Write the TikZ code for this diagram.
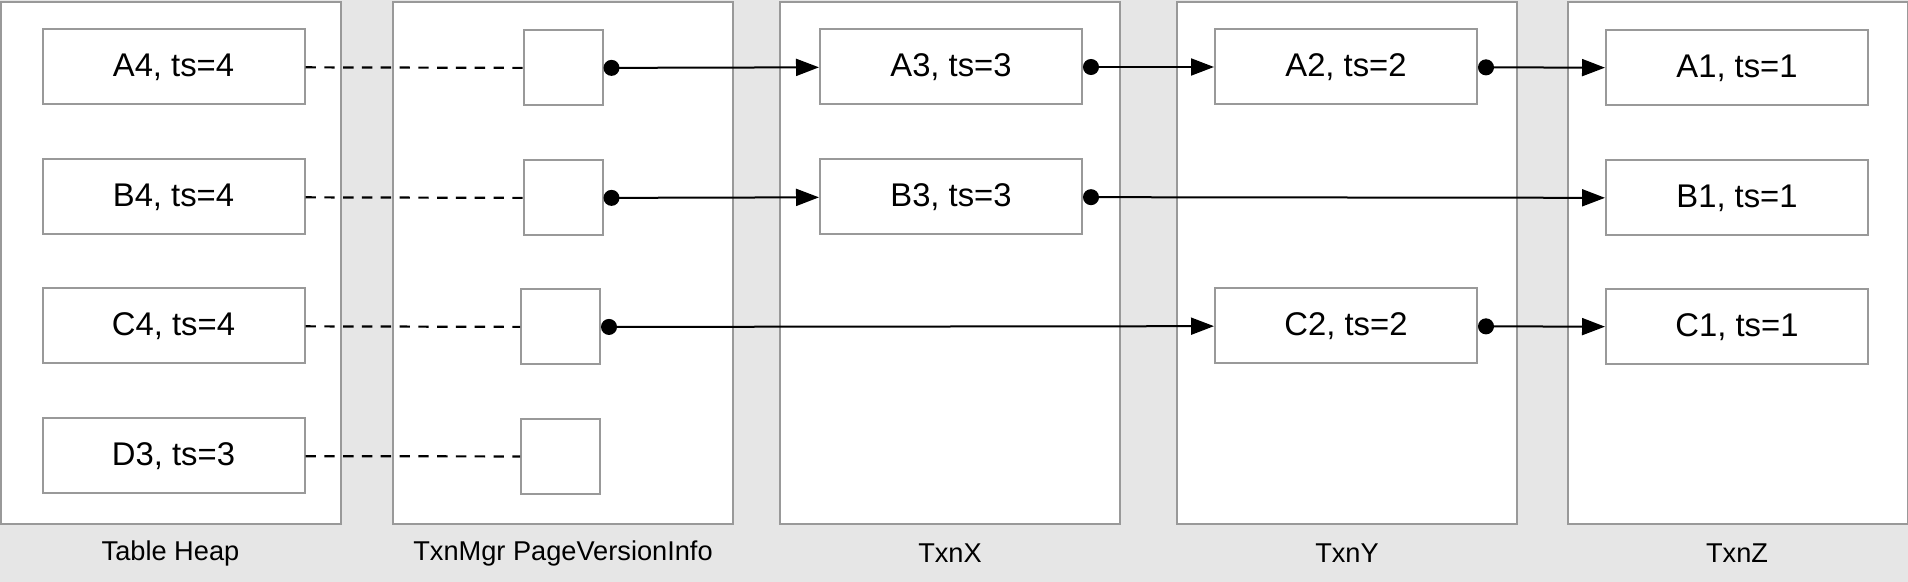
\documentclass[tikz,border=0pt]{standalone}
\usepackage{fontspec}
\setmainfont{Liberation Sans}
\usetikzlibrary{arrows.meta}
\definecolor{bggray}{HTML}{E6E6E6}
\definecolor{boxgray}{HTML}{999999}
\begin{document}
\begin{tikzpicture}[x=0.5pt,y=-0.5pt,
  column/.style={rectangle,draw=boxgray,line width=1pt,fill=white,inner sep=0pt,minimum width=170pt,minimum height=261pt},
  version/.style={rectangle,draw=boxgray,line width=1pt,fill=white,inner sep=0pt,minimum width=131pt,minimum height=37.5pt,font=\fontsize{16.4}{19}\selectfont},
  slot/.style={rectangle,draw=boxgray,line width=1pt,fill=white,inner sep=0pt,minimum width=39.5pt,minimum height=37.5pt},
  caption/.style={font=\fontsize{13.6}{16}\selectfont},
  link/.style={line width=1pt,{Circle[length=8pt]}-{Triangle[length=11.5pt,width=8.5pt]}},
  ref/.style={line width=1.1pt,dash pattern=on 5.2pt off 4.2pt}]
\useasboundingbox (0,0) rectangle (1908,582);
\fill[bggray] (0,0) rectangle (1908,582);

% columns
\node (heap) at (170.5,263.25)[column]{};
\node (pvi) at (563,263.25)[column]{};
\node (txnx) at (950,263.25)[column]{};
\node (txny) at (1347,263.25)[column]{};
\node (txnz) at (1737.5,263.25)[column]{};

\node (heaplbl) at (170.5,553)[caption]{Table Heap};
\node (pvilbl) at (563,553)[caption]{TxnMgr PageVersionInfo};
\node (txnxlbl) at (950,553)[caption]{TxnX};
\node (txnylbl) at (1347,553)[caption]{TxnY};
\node (txnzlbl) at (1737,553)[caption]{TxnZ};

% table heap
\node (heapA) at (173.5,67)[version]{A4, ts=4};
\node (heapB) at (173.5,197)[version]{B4, ts=4};
\node (heapC) at (173.5,326)[version]{C4, ts=4};
\node (heapD) at (173.5,456)[version]{D3, ts=3};

% page version info
\node (pvA) at (563,68)[slot]{};
\node (pvB) at (563,198)[slot]{};
\node (pvC) at (560.5,327)[slot]{};
\node (pvD) at (560.5,456.5)[slot]{};

% versions
\node (xA) at (951,67)[version]{A3, ts=3};
\node (xB) at (951,197)[version]{B3, ts=3};
\node (yA) at (1346,67)[version]{A2, ts=2};
\node (yC) at (1346,326)[version]{C2, ts=2};
\node (zA) at (1737,68)[version]{A1, ts=1};
\node (zB) at (1737,198)[version]{B1, ts=1};
\node (zC) at (1737,327)[version]{C1, ts=1};

\draw[ref](heapA)--(pvA);
\draw[ref](heapB)--(pvB);
\draw[ref](heapC)--(pvC);
\draw[ref](heapD)--(pvD);

\draw[link](pvA)--(xA);
\draw[link](pvB)--(xB);
\draw[link](pvC)--(yC);
\draw[link](xA)--(yA);
\draw[link](xB)--(zB);
\draw[link](yA)--(zA);
\draw[link](yC)--(zC);
\end{tikzpicture}
\end{document}
